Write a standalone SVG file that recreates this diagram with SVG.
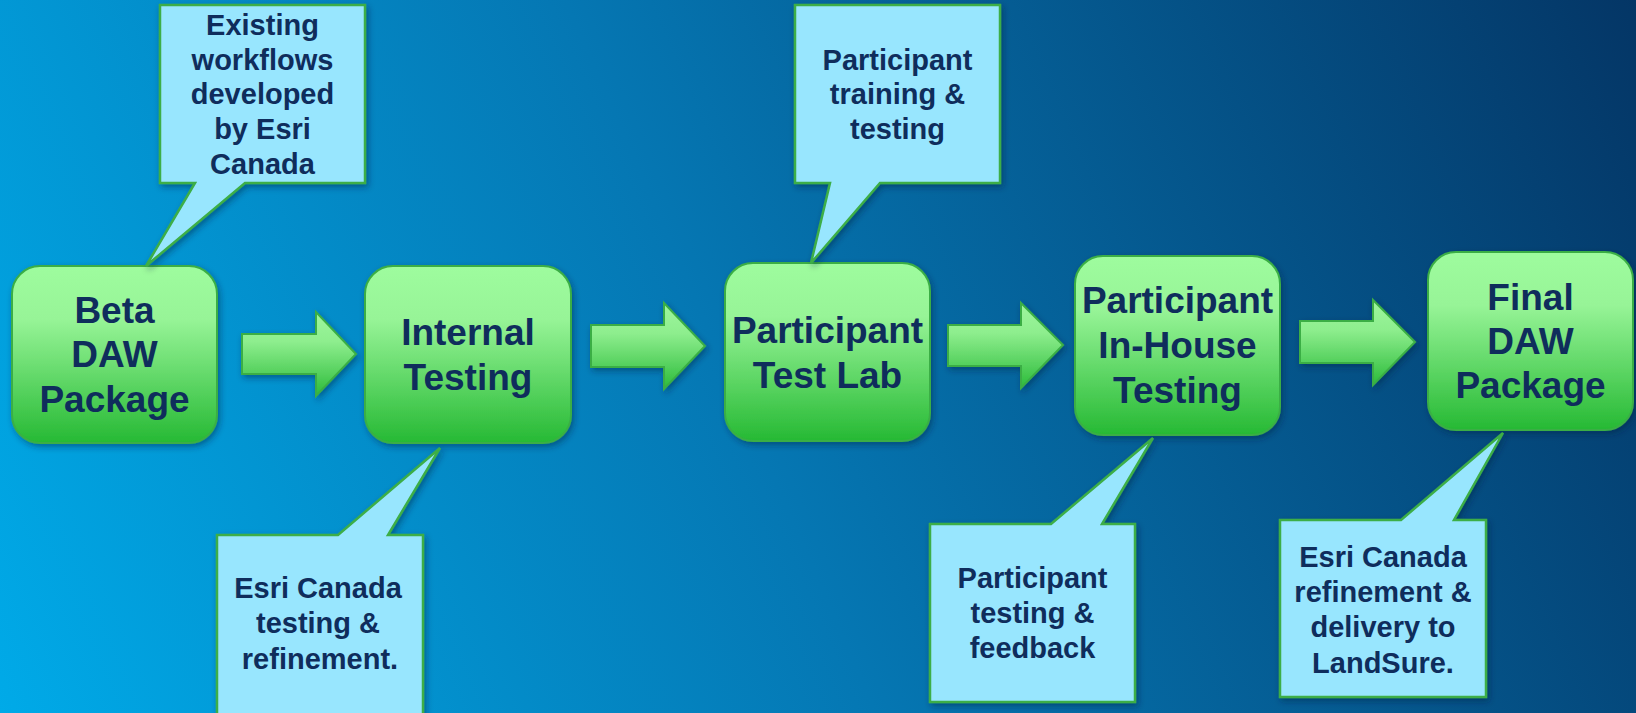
<svg xmlns="http://www.w3.org/2000/svg" width="1636" height="713" viewBox="0 0 1636 713">
<defs>
<linearGradient id="bg" x1="0" y1="713" x2="1636" y2="0" gradientUnits="userSpaceOnUse">
<stop offset="0" stop-color="#00aae8"/>
<stop offset="0.45" stop-color="#0577b3"/>
<stop offset="1" stop-color="#043666"/>
</linearGradient>
<linearGradient id="gn" x1="0" y1="0" x2="0" y2="1">
<stop offset="0" stop-color="#9efc9e"/>
<stop offset="0.3" stop-color="#97f497"/>
<stop offset="1" stop-color="#26b934"/>
</linearGradient>
<linearGradient id="ga" x1="0" y1="0" x2="0" y2="1">
<stop offset="0" stop-color="#9ef69e"/>
<stop offset="0.35" stop-color="#8eee8e"/>
<stop offset="1" stop-color="#2cbb3a"/>
</linearGradient>
<filter id="sh" x="-10%" y="-10%" width="130%" height="130%">
<feDropShadow dx="2" dy="3" stdDeviation="3" flood-color="#002040" flood-opacity="0.45"/>
</filter>
</defs>
<style>
.node{fill:url(#gn);stroke:#3aae45;stroke-width:2;filter:url(#sh)}
.call{fill:#98e6fe;stroke:#3cae46;stroke-width:2.5;filter:url(#sh)}
.arr{fill:url(#ga);stroke:#3aae45;stroke-width:2;filter:url(#sh)}
.big{font-family:"Liberation Sans",Arial,sans-serif;font-weight:bold;font-size:37px;fill:#0f2d5c;text-anchor:middle}
.small{font-family:"Liberation Sans",Arial,sans-serif;font-weight:bold;font-size:29px;fill:#0f2d5c;text-anchor:middle}
</style>
<rect x="0" y="0" width="1636" height="713" fill="url(#bg)"/>

<g id="connectors">
<path class="arr" d="M242,334 H316 V312 L356,354 L316,396 V374 H242 Z"/>
<path class="arr" d="M591,325 H664 V303 L705,346 L664,389 V367 H591 Z"/>
<path class="arr" d="M948,325 H1021 V303 L1063,345 L1021,388 V366 H948 Z"/>
<path class="arr" d="M1300,321 H1373 V300 L1415,342 L1373,385 V363 H1300 Z"/>
</g>

<g id="node-beta">
<rect class="node" x="12" y="266" width="205" height="177" rx="28"/>
<text class="big" x="114.5" y="323">Beta</text>
<text class="big" x="114.5" y="367">DAW</text>
<text class="big" x="114.5" y="412">Package</text>
</g>
<g id="node-internal">
<rect class="node" x="365" y="266" width="206" height="177" rx="28"/>
<text class="big" x="468" y="345">Internal</text>
<text class="big" x="468" y="390">Testing</text>
</g>
<g id="node-testlab">
<rect class="node" x="725" y="263" width="205" height="178" rx="28"/>
<text class="big" x="827.5" y="343">Participant</text>
<text class="big" x="827.5" y="388">Test Lab</text>
</g>
<g id="node-inhouse">
<rect class="node" x="1075" y="256" width="205" height="179" rx="28"/>
<text class="big" x="1177.5" y="313">Participant</text>
<text class="big" x="1177.5" y="358">In-House</text>
<text class="big" x="1177.5" y="403">Testing</text>
</g>
<g id="node-final">
<rect class="node" x="1428" y="252" width="205" height="178" rx="28"/>
<text class="big" x="1530.5" y="310">Final</text>
<text class="big" x="1530.5" y="354">DAW</text>
<text class="big" x="1530.5" y="398">Package</text>
</g>

<g id="callout-existing">
<path class="call" d="M160,5 H365 V183 H245 L146,266 L195,183 H160 Z"/>
<text class="small" x="262.5" y="35">Existing</text>
<text class="small" x="262.5" y="70">workflows</text>
<text class="small" x="262.5" y="104">developed</text>
<text class="small" x="262.5" y="139">by Esri</text>
<text class="small" x="262.5" y="174">Canada</text>
</g>
<g id="callout-internal">
<path class="call" d="M217,535 H338 L440,448 L388,535 H423 V720 H217 Z"/>
<text class="small" x="318" y="598">Esri Canada</text>
<text class="small" x="318" y="633">testing &amp;</text>
<text class="small" x="320" y="669">refinement.</text>
</g>
<g id="callout-testlab">
<path class="call" d="M795,5 H1000 V183 H880 L811,263 L830,183 H795 Z"/>
<text class="small" x="897.5" y="70">Participant</text>
<text class="small" x="897.5" y="104">training &amp;</text>
<text class="small" x="897.5" y="139">testing</text>
</g>
<g id="callout-inhouse">
<path class="call" d="M930,524 H1051 L1153,438 L1102,524 H1135 V702 H930 Z"/>
<text class="small" x="1032.5" y="588">Participant</text>
<text class="small" x="1032.5" y="623">testing &amp;</text>
<text class="small" x="1032.5" y="658">feedback</text>
</g>
<g id="callout-final">
<path class="call" d="M1280,520 H1401 L1503,433 L1454,520 H1486 V697 H1280 Z"/>
<text class="small" x="1383" y="567">Esri Canada</text>
<text class="small" x="1383" y="602">refinement &amp;</text>
<text class="small" x="1383" y="637">delivery to</text>
<text class="small" x="1383" y="673">LandSure.</text>
</g>
</svg>
